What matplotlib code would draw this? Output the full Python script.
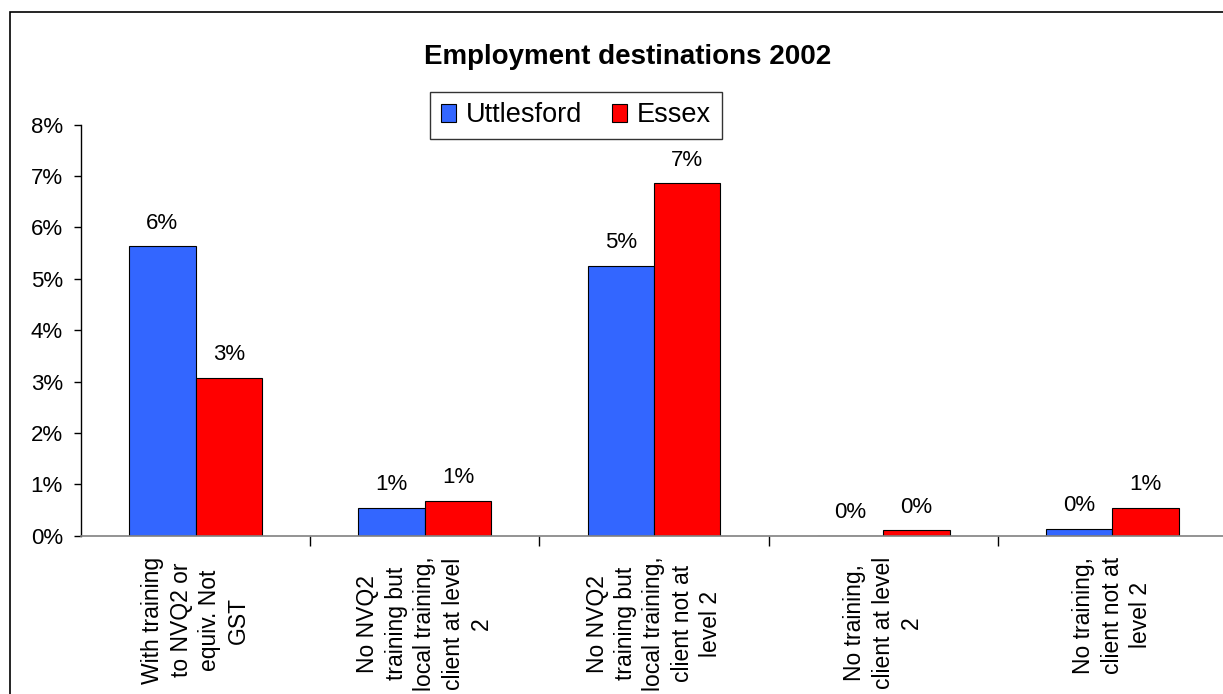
import matplotlib
matplotlib.use("Agg")
import matplotlib.pyplot as plt
from matplotlib.patches import Rectangle
import numpy as np

plt.rcParams['font.family'] = ['Liberation Sans', 'DejaVu Sans']

categories = [
    "With training\nto NVQ2 or\nequiv. Not\nGST",
    "No NVQ2\ntraining but\nlocal training,\nclient at level\n2",
    "No NVQ2\ntraining but\nlocal training,\nclient not at\nlevel 2",
    "No training,\nclient at level\n2",
    "No training,\nclient not at\nlevel 2",
]
uttlesford = [5.63, 0.54, 5.25, 0.0, 0.14]
essex = [3.07, 0.68, 6.86, 0.11, 0.54]
series_names = ["Uttlesford", "Essex"]
colors = ["#3366FF", "#FF0000"]

W, H = 1223, 694
fig = plt.figure(figsize=(W / 100, H / 100), dpi=100)
fig.patches.append(Rectangle((10 / W, -0.1), 1.2, (H - 12) / H + 0.1,
                             transform=fig.transFigure, fill=False,
                             edgecolor='black', linewidth=1.2))

ax = fig.add_axes([81 / W, 1 - 535.7 / H, (1227 - 81) / W, (535.7 - 124.7) / H])
x = np.arange(len(categories))
w = 0.29
b1 = ax.bar(x - w / 2, uttlesford, w, color=colors[0], edgecolor='black', linewidth=0.8, label=series_names[0])
b2 = ax.bar(x + w / 2, essex, w, color=colors[1], edgecolor='black', linewidth=0.8, label=series_names[1])

for bars, vals in ((b1, uttlesford), (b2, essex)):
    for rect, v in zip(bars, vals):
        ax.annotate(f"{v:.0f}%", (rect.get_x() + rect.get_width() / 2, v),
                    xytext=(0, 9), textcoords='offset points',
                    ha='center', va='bottom', fontsize=16)

ax.set_xlim(-0.5, len(categories) - 0.5)
ax.set_ylim(0, 8)
ax.set_yticks(range(0, 9))
ax.set_yticklabels([f"{i}%" for i in range(0, 9)], fontsize=16)
ax.tick_params(axis='y', length=5, pad=8, width=1)

ax.set_xticks(x)
ax.set_xticklabels(categories, rotation=90, fontsize=16.5, va='top', ha='center',
                   multialignment='center', linespacing=1.3)
ax.tick_params(axis='x', which='major', length=0, pad=15)
ax.set_xticks(np.arange(0.5, len(categories) - 0.5, 1), minor=True)
ax.tick_params(axis='x', which='minor', length=7, width=1, color='black')

for s in ('top', 'right'):
    ax.spines[s].set_visible(False)
ax.spines['bottom'].set_color('#808080')
ax.spines['bottom'].set_linewidth(1.2)
ax.spines['left'].set_linewidth(1)

fig.text(628 / W, 1 - 57.5 / H, "Employment destinations 2002", ha='center', va='center',
         fontsize=20, fontweight='bold')

leg = fig.legend(loc='center', bbox_to_anchor=(576 / W, 1 - 115.5 / H), ncol=2,
                 fontsize=19.5, frameon=True, fancybox=False, edgecolor='black',
                 handlelength=0.55, handleheight=0.6, handletextpad=0.37, columnspacing=1.1,
                 borderpad=0.4)
leg.get_frame().set_linewidth(1)

fig.savefig("out.png", dpi=100)
